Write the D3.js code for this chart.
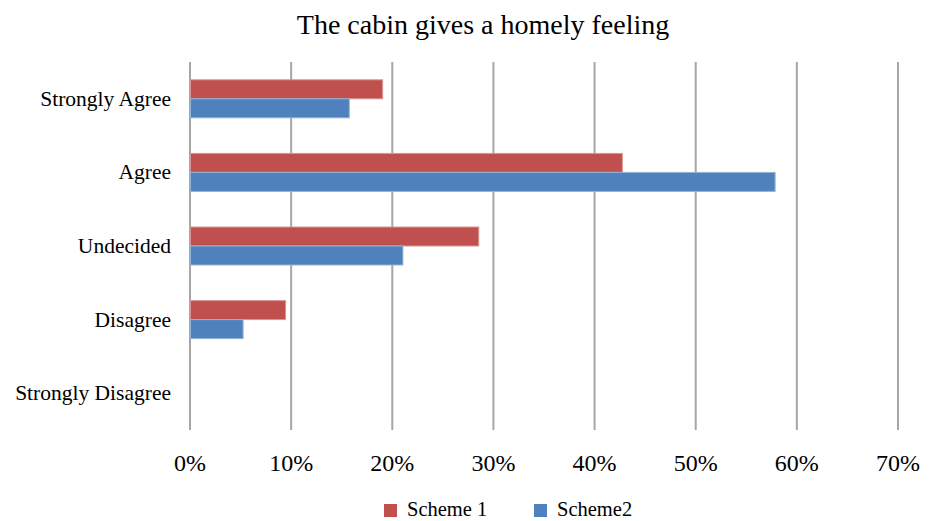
<!DOCTYPE html>
<html><head><meta charset="utf-8">
<script src="https://cdn.jsdelivr.net/npm/d3@7"></script>
<style>body{margin:0;background:#fff}svg{display:block}text{font-family:"Liberation Serif","DejaVu Serif",serif;fill:#000}</style>
</head><body>
<svg id="c" width="935" height="521"></svg>
<script>
const categories = ["Strongly Agree","Agree","Undecided","Disagree","Strongly Disagree"];
const scheme1 = [0.190,0.427,0.285,0.094,0];
const scheme2 = [0.157,0.578,0.210,0.052,0];
const seriesNames = ["Scheme 1","Scheme2"];
const colors = ["#C0504D","#4F81BD"];
const strokes = ["#D99694","#95B3D7"];
const xTicks = [0,0.1,0.2,0.3,0.4,0.5,0.6,0.7];

const svg = d3.select("#c");
const x = d3.scaleLinear().domain([0,0.7]).range([190,898]);
const y = d3.scaleBand().domain(categories).range([62,430]);
const inner = d3.scaleBand().domain([0,1]).range([0,38]);

svg.append("text").attr("x",483).attr("y",34).attr("text-anchor","middle")
  .style("font-size","28px").text("The cabin gives a homely feeling");

// gridlines
svg.append("g").selectAll("line").data(xTicks).join("line")
  .attr("x1",d=>x(d)).attr("x2",d=>x(d)).attr("y1",62).attr("y2",430)
  .attr("stroke","#A6A6A6").attr("stroke-width",2);

// x tick labels
svg.append("g").selectAll("text").data(xTicks).join("text")
  .attr("x",d=>x(d)).attr("y",471).attr("text-anchor","middle")
  .style("font-size","24px").text(d=>d3.format(".0%")(d));

// category labels
svg.append("g").selectAll("text").data(categories).join("text")
  .attr("x",171).attr("y",d=>y(d)+y.bandwidth()/2+7).attr("text-anchor","end")
  .style("font-size","21.5px").text(d=>d);

const series=[scheme1,scheme2];
series.forEach((vals,si)=>{
  svg.append("g").selectAll("rect").data(categories.map((c,i)=>({c,v:vals[i]})).filter(d=>d.v>0)).join("rect")
    .attr("x",x(0)+0.5)
    .attr("y",d=>y(d.c)+y.bandwidth()/2-19+inner(si))
    .attr("width",d=>x(d.v)-x(0))
    .attr("height",inner.bandwidth())
    .attr("fill",colors[si]).attr("stroke",strokes[si]).attr("stroke-width",1);
});

// legend
const leg=[{x:384,tx:407},{x:534,tx:557}];
leg.forEach((l,i)=>{
  svg.append("rect").attr("x",l.x).attr("y",504).attr("width",13).attr("height",13).attr("fill",colors[i]);
  svg.append("text").attr("x",l.tx).attr("y",516).style("font-size","20.5px").text(seriesNames[i]);
});
</script>
</body></html>
